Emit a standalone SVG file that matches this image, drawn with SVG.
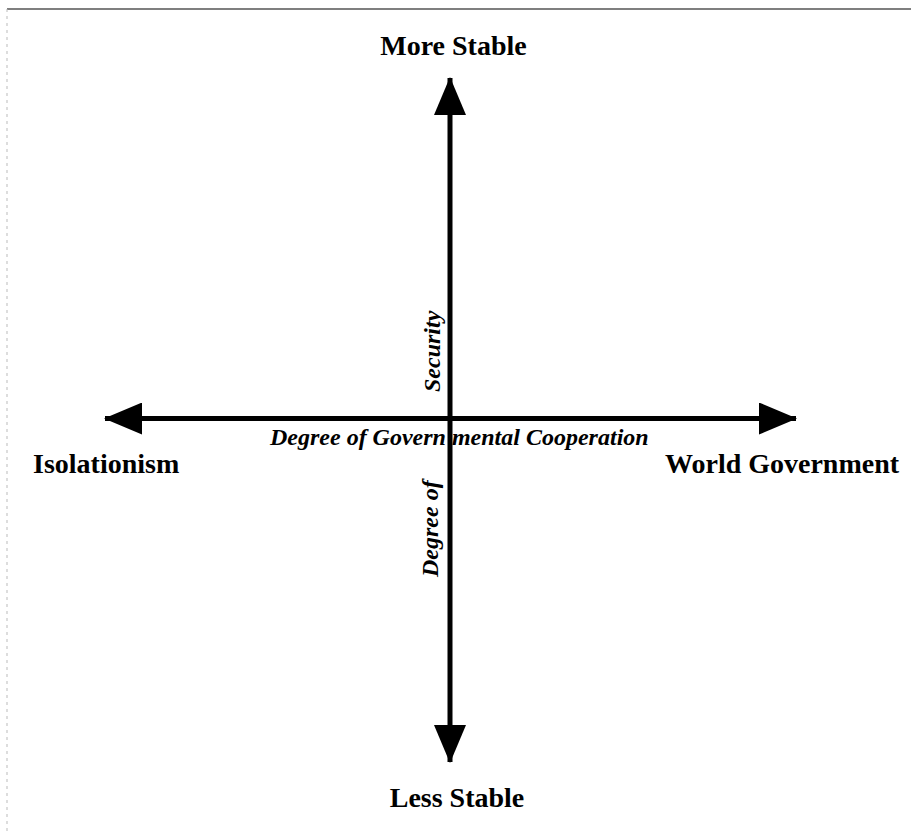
<svg xmlns="http://www.w3.org/2000/svg" width="911" height="831" viewBox="0 0 911 831">
<style>
.lbl{font-family:"Liberation Serif","Times New Roman",serif;font-weight:bold;font-size:28px;fill:#000}
.ax{font-family:"Liberation Serif","Times New Roman",serif;font-weight:bold;font-style:italic;font-size:24px;fill:#000}
.axis{stroke:#000;stroke-width:5;fill:none;marker-start:url(#ah);marker-end:url(#ah)}
</style>
<defs>
<marker id="ah" viewBox="0 0 38 32" refX="37" refY="16" markerWidth="38" markerHeight="32" markerUnits="userSpaceOnUse" orient="auto-start-reverse">
<path d="M0,0 L38,16 L0,32 z" fill="#000"/>
</marker>
</defs>
<rect width="911" height="831" fill="#fff"/>
<g id="frame">
<line x1="7" y1="9" x2="911" y2="9" stroke="#555" stroke-width="1.3"/>
<line x1="7" y1="9" x2="7" y2="831" stroke="#bbb" stroke-width="1" stroke-dasharray="3,4"/>
</g>
<g id="connectors">
<line class="axis" x1="105" y1="418.5" x2="796" y2="418.5"/>
<line class="axis" x1="450" y1="78" x2="450" y2="762"/>
</g>
<g id="more-stable"><text class="lbl" x="453.5" y="55" text-anchor="middle">More Stable</text></g>
<g id="less-stable"><text class="lbl" x="457" y="807" text-anchor="middle">Less Stable</text></g>
<g id="isolationism"><text class="lbl" x="33" y="473">Isolationism</text></g>
<g id="world-government"><text class="lbl" x="665" y="473">World Government</text></g>
<g id="x-axis-label"><text class="ax" x="270" y="445" font-size="23.5">Degree of Govern<tspan dx="6">mental Cooperation</tspan></text></g>
<g id="y-axis-label">
<text class="ax" transform="translate(440,392) rotate(-90)">Security</text>
<text class="ax" transform="translate(438,577) rotate(-90)">Degree of</text>
</g>
</svg>
